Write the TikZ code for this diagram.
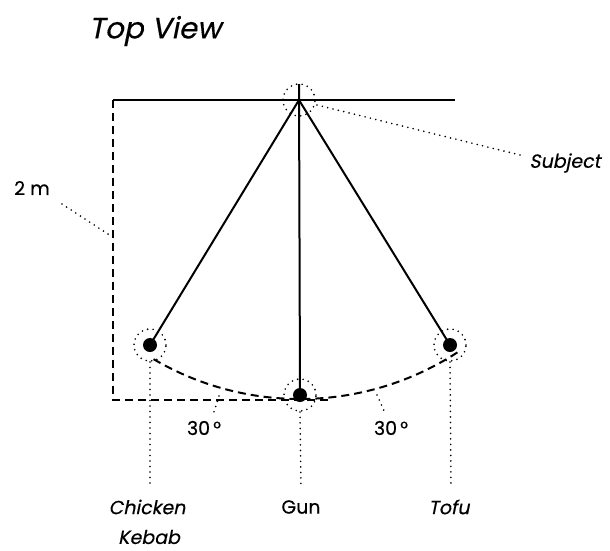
\documentclass[tikz,border=0pt]{standalone}
\usepackage{fontspec}
\setmainfont{Poppins}[FakeBold=0.4]
\newfontfamily\slfont[FakeSlant=0.2,FakeBold=0.4]{Poppins}
\begin{document}
\begin{tikzpicture}[x=1pt,y=-1pt,
  solidline/.style={line width=2pt},
  dashline/.style={line width=2pt, dash pattern=on 8pt off 5pt},
  dotline/.style={line width=1.8pt, line cap=round, dash pattern=on 0pt off 5.5pt},
  dotring/.style={draw, circle, minimum size=32pt, inner sep=0pt, dotline},
  dotmark/.style={fill, circle, minimum size=14pt, inner sep=0pt},
  lbl/.style={font=\fontsize{19}{21}\selectfont},
  slbl/.style={font=\fontsize{19}{21}\selectfont\slfont}]
\useasboundingbox (0,0) rectangle (610,550);
\node[font=\fontsize{29.5}{32}\selectfont\slfont] (title) at (155,31) {Top View};
\coordinate (S) at (299,100);
\coordinate (Gtop) at (299,84);
\coordinate (TL) at (113,100);
\coordinate (TR) at (455,100);
\coordinate (BL) at (113,400);
\coordinate (BR) at (330,400);
\node[dotmark] (C) at (150,345) {};
\node[dotmark] (G) at (300,395) {};
\node[dotmark] (T) at (450,345) {};
\node[dotring] (Sr) at (S) {};
\node[dotring] (Cr) at (C) {};
\node[dotring] (Gr) at (G) {};
\node[dotring] (Tr) at (T) {};
% frame lines
\draw[solidline] (TL) -- (TR);
\draw[dashline] (TL) -- (BL) -- (BR);
% rays
\draw[solidline] (S) -- (C.center);
\draw[solidline] (Gtop) -- (G.center);
\draw[solidline] (S) -- (T.center);
% arc
\draw[dashline] plot[domain=57:121, samples=60] ({300+289*cos(\x)},{110+289*sin(\x)});
% labels
\node[slbl] (subj) at (565,163) {Subject};
\coordinate (subjA) at (317,105);
\coordinate (subjB) at (520,155);
\draw[dotline] (subjA) -- (subjB);
\node[lbl] (twom) at (32,188) {2 m};
\coordinate (twomA) at (62,204);
\coordinate (twomB) at (111,236);
\draw[dotline] (twomA) -- (twomB);
\node[lbl] (angL) at (204,428) {30\,°};
\coordinate (angLA) at (219,396);
\coordinate (angLB) at (214,412);
\draw[dotline] (angLA) -- (angLB);
\node[lbl] (angR) at (391,428) {30\,°};
\coordinate (angRA) at (377,395);
\coordinate (angRB) at (385,413);
\draw[dotline] (angRA) -- (angRB);
\node[slbl] (chick) at (147,507) {Chicken};
\node[slbl] (kebab) at (149,537) {Kebab};
\node[lbl] (gun) at (301,507) {Gun};
\node[slbl] (tofu) at (449,507) {Tofu};
\coordinate (cEnd) at (150,488);
\coordinate (gEnd) at (301,488);
\coordinate (tEnd) at (451,486);
\draw[dotline] (Cr.south) -- (cEnd);
\draw[dotline] (Gr.south) -- (gEnd);
\draw[dotline] (Tr.south) -- (tEnd);
\end{tikzpicture}
\end{document}
